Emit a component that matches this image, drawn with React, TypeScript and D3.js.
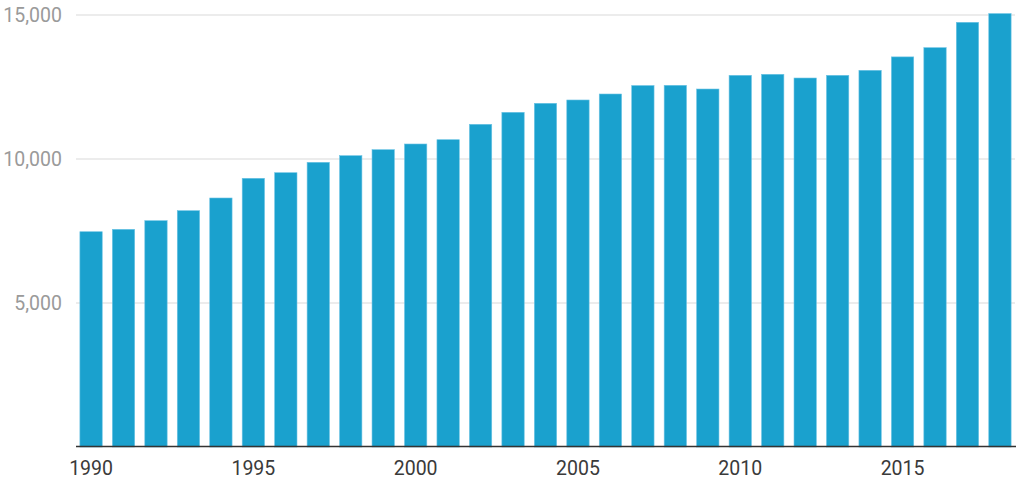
import React from "react";
import * as d3 from "d3";

const years: number[] = [
  1990, 1991, 1992, 1993, 1994, 1995, 1996, 1997, 1998, 1999,
  2000, 2001, 2002, 2003, 2004, 2005, 2006, 2007, 2008, 2009,
  2010, 2011, 2012, 2013, 2014, 2015, 2016, 2017, 2018,
];
const values: number[] = [
  7475, 7558, 7858, 8205, 8646, 9330, 9524, 9885, 10115, 10323,
  10521, 10670, 11205, 11621, 11934, 12049, 12257, 12550, 12559, 12430,
  12906, 12941, 12812, 12906, 13079, 13545, 13865, 14746, 15049,
];
const yTicks: number[] = [5000, 10000, 15000];
const xTickYears: number[] = [1990, 1995, 2000, 2005, 2010, 2015];

const W = 1024;
const H = 489;
const left = 76;
const right = 1015;
const top = 15;
const bottom = 447;

export default function App() {
  const x = d3
    .scaleBand<number>()
    .domain(years)
    .range([left, right])
    .paddingInner(0.312)
    .paddingOuter(0.12);
  const y = d3.scaleLinear().domain([0, 15000]).range([bottom, top]);
  const fmt = d3.format(",");
  const font = "Roboto, 'Noto Sans', sans-serif";

  return (
    <svg
      width={W}
      height={H}
      style={{ position: "absolute", left: 0, top: 0, background: "#fff" }}
    >
      {yTicks.map((t) => (
        <g key={t}>
          <line
            x1={left}
            x2={right}
            y1={y(t)}
            y2={y(t)}
            stroke="#e6e6e6"
            strokeWidth={1.5}
          />
          <text
            x={62}
            y={y(t)}
            dy="0.35em"
            textAnchor="end"
            fontFamily={font}
            fontSize={19.5}
            fill="#9a9a9a"
          >
            {fmt(t)}
          </text>
        </g>
      ))}
      {years.map((yr, i) => (
        <rect
          key={yr}
          x={x(yr)}
          y={y(values[i])}
          width={x.bandwidth()}
          height={y(0) - y(values[i])}
          fill="#1aa1ce"
          stroke="#6cc3e4"
          strokeWidth={0.6}
        />
      ))}
      <line
        x1={left}
        x2={right + 1}
        y1={bottom - 0.5}
        y2={bottom - 0.5}
        stroke="#333"
        strokeWidth={1.5}
      />
      {xTickYears.map((yr) => (
        <text
          key={yr}
          x={(x(yr) as number) + x.bandwidth() / 2}
          y={475}
          textAnchor="middle"
          fontFamily={font}
          fontSize={19.5}
          fill="#3a3a3a"
        >
          {yr}
        </text>
      ))}
    </svg>
  );
}
